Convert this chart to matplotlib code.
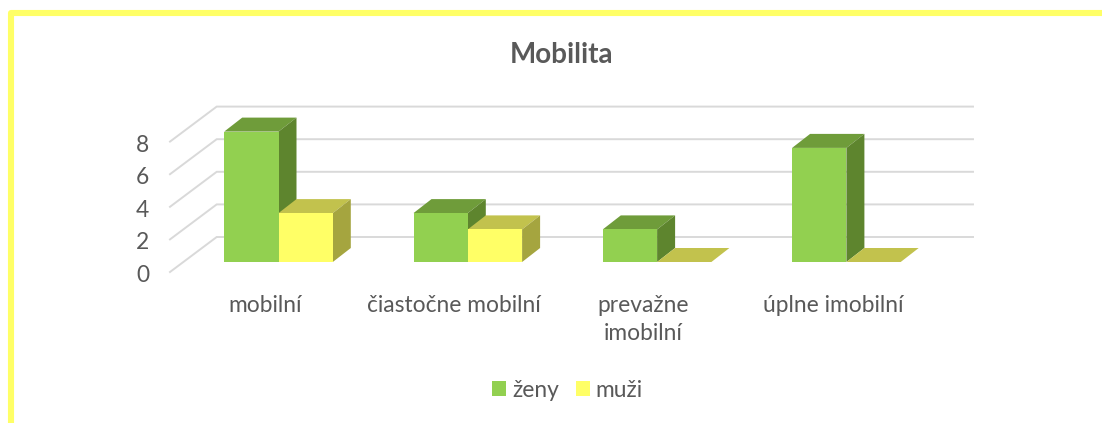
import matplotlib
matplotlib.use("Agg")
import matplotlib.pyplot as plt
from matplotlib.lines import Line2D
from matplotlib.patches import Polygon
from matplotlib.transforms import ScaledTranslation

plt.rcParams['font.family'] = ['Lato', 'DejaVu Sans']

categories = ["mobilní", "čiastočne mobilní", "prevažne\nimobilní", "úplne imobilní"]
zeny = [8, 3, 2, 7]
muzi = [3, 2, 0, 0]
series_names = ["ženy", "muži"]
y_ticks = [0, 2, 4, 6, 8]
title = "Mobilita"

W, H = 1102, 423
TEXT = "#595959"
GRID = "#D9D9D9"
BORDER = "#FFFF66"
GREEN = ("#92D050", "#6F9C3A", "#5E852E")
YELLOW = ("#FFFF66", "#C2C24D", "#A5A53F")

fig = plt.figure(figsize=(W / 100, H / 100), dpi=100, facecolor="white")

# plot frame in pixels: the wall + floor region of the 3-D chart
L, R, T, B = 170, 973, 107, 272
ax = fig.add_axes([L / W, 1 - B / H, (R - L) / W, (B - T) / H])
ax.patch.set_visible(False)
for s in ax.spines.values():
    s.set_visible(False)

PX_X = 189.3         # pixels per category
PX_Y = 16.3          # pixels per unit
x0_px, y0_px = 278.5, 262
ax.set_xlim((L - x0_px) / PX_X, (R - x0_px) / PX_X)
ax.set_ylim((y0_px - B) / PX_Y, (y0_px - T) / PX_Y)

bar_w = 54.3 / PX_X
depth_x, depth_y = 18 / PX_X, 14 / PX_Y           # bar depth
front_y = (y0_px - B) / PX_Y                      # floor front edge
wall_x = (216.7 - x0_px) / PX_X                   # back wall left
wall_y = (y0_px - 237) / PX_Y                     # back wall floor level
x_left = (L - x0_px) / PX_X
x_right = (R - x0_px) / PX_X

# gridlines on wall and side wall
for v in y_ticks:
    ax.plot([x_left, wall_x, x_right], [front_y + v, wall_y + v, wall_y + v],
            color=GRID, lw=1.4, zorder=1, clip_on=False, solid_joinstyle="miter")


def draw_series(vals, offset, cols, z):
    xs = [i + offset for i in range(len(vals))]
    bars = ax.bar(xs, vals, width=bar_w, align="edge", color=cols[0],
                  zorder=z + 0.2, linewidth=0, label=None)
    for x, v in zip(xs, vals):
        ax.add_patch(Polygon([(x, v), (x + bar_w, v),
                              (x + bar_w + depth_x, v + depth_y), (x + depth_x, v + depth_y)],
                             closed=True, fc=cols[1], ec="none", zorder=z + 0.1, clip_on=False))
        if v > 0:
            ax.add_patch(Polygon([(x + bar_w, 0), (x + bar_w + depth_x, depth_y),
                                  (x + bar_w + depth_x, v + depth_y), (x + bar_w, v)],
                                 closed=True, fc=cols[2], ec="none", zorder=z + 0.1, clip_on=False))
    return bars


b1 = draw_series(zeny, -bar_w, GREEN, 3)
b2 = draw_series(muzi, 0, YELLOW, 4)

# axis labels
ax.set_yticks([front_y + v for v in y_ticks], [str(v) for v in y_ticks])
ax.set_xticks([i - 13.5 / PX_X for i in range(len(categories))], categories)
ax.tick_params(axis="y", length=0, pad=15, labelsize=16.4, labelcolor=TEXT)
ax.tick_params(axis="x", length=0, pad=16.5, labelsize=16.4, labelcolor=TEXT)
for lab in ax.get_xticklabels():
    lab.set_linespacing(1.42)
shift_down = ScaledTranslation(0, -1.5 / 100, fig.dpi_scale_trans)
for lab in ax.get_yticklabels():
    lab.set_transform(lab.get_transform() + shift_down)

fig.text(562 / W, 1 - 55 / H, title, ha="center", va="center",
         fontsize=20, fontweight="bold", color=TEXT)

leg = fig.legend([b1[0], b2[0]], series_names, loc="center",
                 bbox_to_anchor=(567.5 / W, 1 - 390 / H), ncol=2, frameon=False,
                 fontsize=16.4, labelcolor=TEXT, handlelength=0.61, handleheight=0.61,
                 handletextpad=0.26, columnspacing=0.75, borderpad=0)

# frame of the chart: top and left only are visible in the crop
fig.add_artist(Line2D([11 / W, 11 / W, 1], [0, 1 - 13 / H, 1 - 13 / H],
                      transform=fig.transFigure, color=BORDER, lw=4.4,
                      solid_joinstyle="round", solid_capstyle="butt"))

fig.savefig("out.png", dpi=100, facecolor="white")
